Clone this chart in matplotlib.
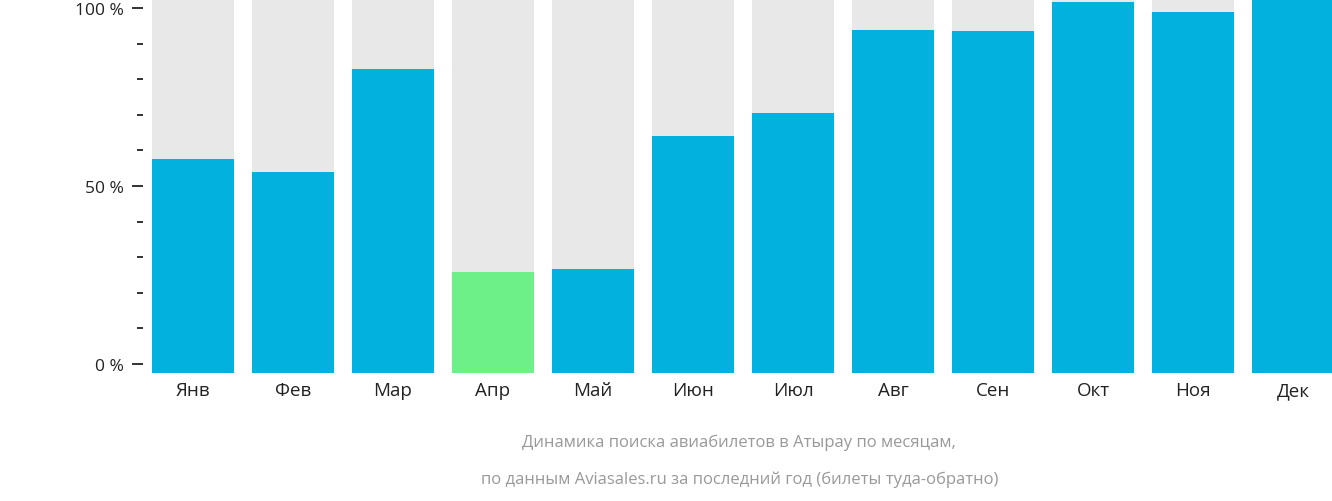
import matplotlib
matplotlib.use("Agg")
import matplotlib.pyplot as plt
from matplotlib.ticker import MultipleLocator

months = ["Янв", "Фев", "Мар", "Апр", "Май", "Июн", "Июл", "Авг", "Сен", "Окт", "Ноя", "Дек"]
values = [57.6, 53.9, 82.9, 25.8, 26.7, 64.0, 70.5, 93.8, 93.5, 101.7, 98.9, 104.0]
highlight = "Апр"
yticks = [0, 50, 100]
yticklabels = ["0 %", "50 %", "100 %"]

plt.rcParams["font.family"] = "Open Sans"
fig = plt.figure(figsize=(13.32, 5.02), dpi=100)
ax = fig.add_axes([143/1332, 128/502, 1 - 143/1332, 374/502])
ymin, ymax = -2.53, 102.5
ax.set_ylim(ymin, ymax)
ax.set_xlim(-0.5, 11.39)
x = list(range(len(months)))
ax.bar(x, [ymax - ymin]*len(x), bottom=ymin, width=0.82, color="#e8e8e8")
colors = ["#6df088" if m == highlight else "#02b1dd" for m in months]
ax.bar(x, [v - ymin for v in values], bottom=ymin, width=0.82, color=colors)
for s in ax.spines.values():
    s.set_visible(False)
ax.set_yticks(yticks)
ax.set_yticklabels(yticklabels, fontsize=12.5, color="#222222")
ax.yaxis.set_minor_locator(MultipleLocator(10))
ax.tick_params(axis="y", which="major", length=8, width=1.3, color="#222222", pad=6)
ax.tick_params(axis="y", which="minor", length=4, width=1.3, color="#222222")
ax.set_xticks(x)
ax.set_xticklabels(months, fontsize=13.5, color="#222222")
ax.tick_params(axis="x", length=0, pad=6)
fig.text(0.555, 1 - 443/502, "Динамика поиска авиабилетов в Атырау по месяцам,", ha="center", va="center", fontsize=12, color="#999999")
fig.text(0.555, 1 - 480/502, "по данным Aviasales.ru за последний год (билеты туда-обратно)", ha="center", va="center", fontsize=12, color="#999999")
fig.savefig("out.png", dpi=100)
